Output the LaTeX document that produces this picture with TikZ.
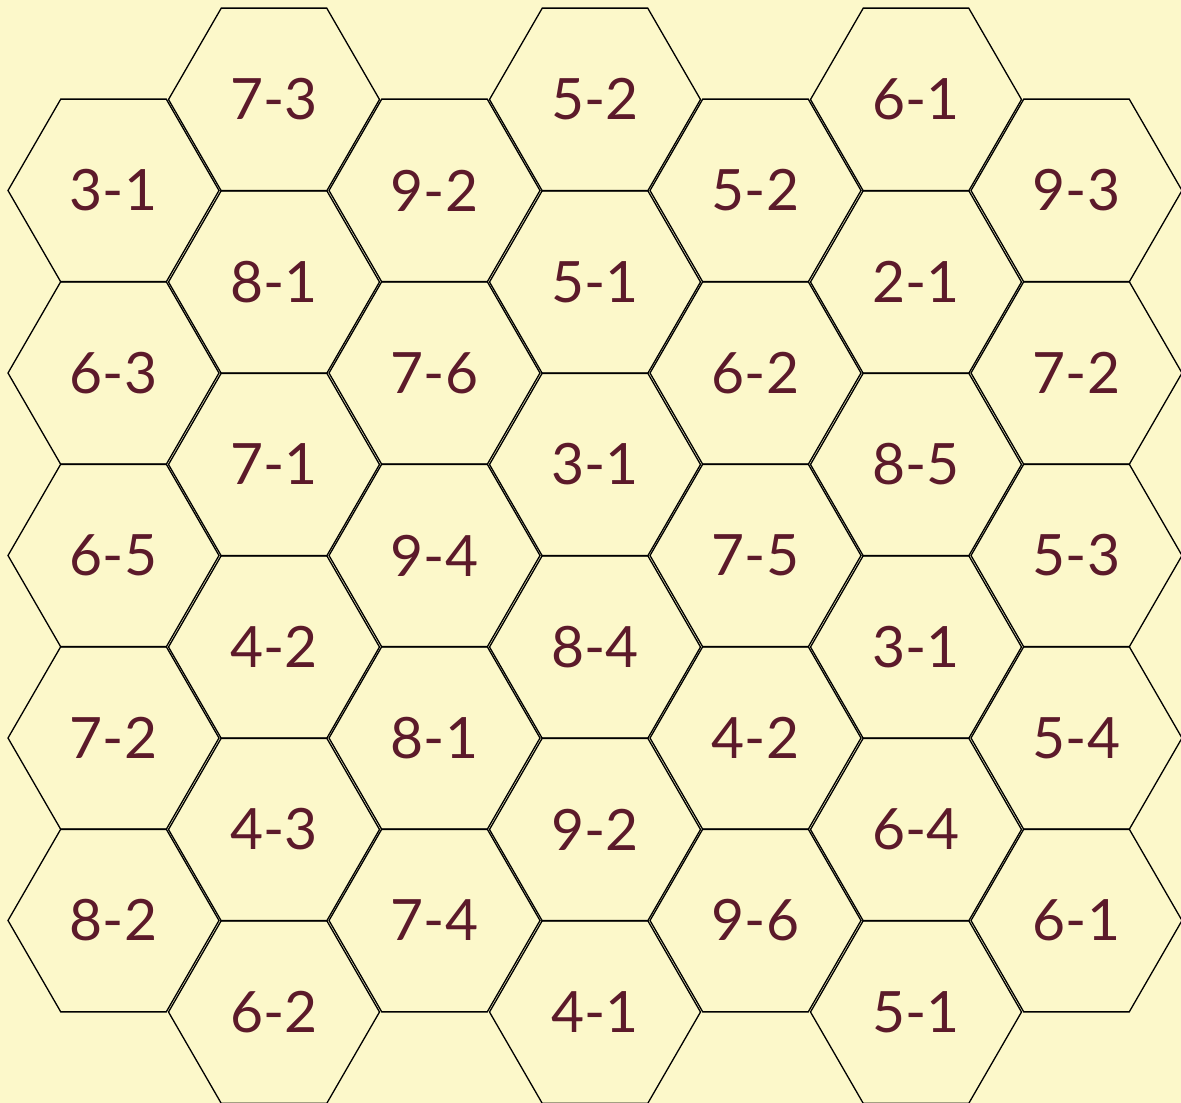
\documentclass[tikz,border=0pt]{standalone}
\usepackage{fontspec}
\setmainfont{Lato}
\usetikzlibrary{shapes.geometric}
\definecolor{bg}{HTML}{FCF8CA}
\definecolor{txt}{HTML}{5C1A2A}
\begin{document}
\begin{tikzpicture}[x=1pt,y=-1pt,
  hexcell/.style={regular polygon, regular polygon sides=6, minimum size=211pt,
    inner sep=0pt, outer sep=0pt, draw=black, line width=1.3pt, text=txt,
    font=\fontsize{57}{62}\selectfont}]
\fill[bg] (0,0) rectangle (1181,1103);
\useasboundingbox (0,0) rectangle (1181,1103);
\foreach \c/\labs in {0/{3-1,6-3,6-5,7-2,8-2},2/{9-2,7-6,9-4,8-1,7-4},4/{5-2,6-2,7-5,4-2,9-6},6/{9-3,7-2,5-3,5-4,6-1}}{
  \foreach \l [count=\r from 0] in \labs {
    \node[hexcell] (h\c-\r) at ({113.5+160.5*\c},{190.5+182.5*\r}) {\l};
  }
}
\foreach \c/\labs in {1/{7-3,8-1,7-1,4-2,4-3,6-2},3/{5-2,5-1,3-1,8-4,9-2,4-1},5/{6-1,2-1,8-5,3-1,6-4,5-1}}{
  \foreach \l [count=\r from 0] in \labs {
    \node[hexcell] (h\c-\r) at ({113.5+160.5*\c},{99.5+182.5*\r}) {\l};
  }
}
\end{tikzpicture}
\end{document}
